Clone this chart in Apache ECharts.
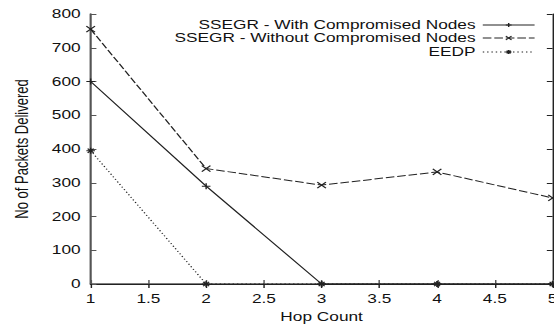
<!DOCTYPE html>
<html>
<head>
<meta charset="utf-8">
<script src="https://cdn.jsdelivr.net/npm/echarts@6/dist/echarts.min.js"></script>
<style>
  html, body { margin: 0; padding: 0; background: #fff; overflow: hidden; }
  /* the source figure is a gnuplot plot stretched sideways, so draw narrow and widen it */
  #chart { width: 385px; height: 329px; transform: scaleX(1.439); transform-origin: 0 0; }
</style>
</head>
<body>
<div id="chart"></div>
<script>
const hopCount = [1, 2, 3, 4, 5];
const withCompromised = [600, 290, 0, 0, 0];
const withoutCompromised = [755, 342, 293, 332, 255];
const eedp = [395, 0, 0, 0, 0];
const seriesNames = ['SSEGR - With Compromised Nodes', 'SSEGR - Without Compromised Nodes', 'EEDP'];

const font = 'Liberation Sans';
const ink = '#222';

// gnuplot style point marks: + , x and *
const plusMark = 'path://M5,0L5,10M0,5L10,5';
const crossMark = 'path://M0,0L10,10M10,0L0,10';
const starMark = 'path://M5,0L5,10M0,5L10,5M1.5,1.5L8.5,8.5M8.5,1.5L1.5,8.5';

function pairs(values) {
    return hopCount.map((x, i) => [x, values[i]]);
}

function lineSeries(name, values, mark, dash) {
    return {
        name: name,
        type: 'line',
        data: pairs(values),
        symbol: mark,
        symbolSize: 6,
        lineStyle: { color: ink, width: 1, type: dash },
        itemStyle: { color: ink, borderColor: ink, borderWidth: 1 },
        emphasis: { disabled: true }
    };
}

const legendBase = {
    orient: 'vertical',
    align: 'right',
    right: 13,
    padding: 0,
    itemWidth: 36,
    itemHeight: 5,
    selectedMode: false,
    lineStyle: { width: 1 },
    itemStyle: { borderWidth: 1 },
    textStyle: { fontFamily: font, fontSize: 12, color: '#111' }
};

let chart = echarts.init(document.getElementById('chart'), null, { renderer: 'svg' });
const option = {
    animation: false,
    backgroundColor: '#fff',
    grid: { left: 63, right: 1, top: 14, bottom: 45, outerBoundsMode: 'none' },
    legend: [
        Object.assign({}, legendBase, { top: 19, data: [seriesNames[0]] }),
        Object.assign({}, legendBase, { top: 32, data: [seriesNames[1]] }),
        Object.assign({}, legendBase, { top: 46, data: [seriesNames[2]] })
    ],
    xAxis: [
        {
            type: 'value', min: 1, max: 5, interval: 0.5,
            name: 'Hop Count', nameLocation: 'middle', nameGap: 27,
            nameTextStyle: { fontFamily: font, fontSize: 12, color: '#111' },
            axisLine: { lineStyle: { color: '#555', width: 1.5 } },
            axisTick: { inside: true, length: 4, lineStyle: { color: '#555' } },
            axisLabel: { fontFamily: font, fontSize: 12, color: '#111', margin: 9 },
            splitLine: { show: false }
        },
        {
            type: 'value', position: 'top', min: 1, max: 5, interval: 0.5,
            axisLine: { lineStyle: { color: ink, width: 1 } },
            axisTick: { inside: true, length: 4, lineStyle: { color: ink } },
            axisLabel: { show: false },
            splitLine: { show: false }
        }
    ],
    yAxis: [
        {
            type: 'value', min: 0, max: 800, interval: 100,
            name: 'No of Packets Delivered', nameLocation: 'middle', nameGap: 42,
            nameTextStyle: { fontFamily: font, fontSize: 13, color: '#111' },
            axisLine: { show: true, lineStyle: { color: '#555', width: 1.5 } },
            axisTick: { show: true, inside: true, length: 4, lineStyle: { color: '#555' } },
            axisLabel: { fontFamily: font, fontSize: 12, color: '#111', margin: 7 },
            splitLine: { show: false }
        },
        {
            type: 'value', position: 'right', min: 0, max: 800, interval: 100,
            axisLine: { show: true, lineStyle: { color: ink, width: 1 } },
            axisTick: { show: true, inside: true, length: 4, lineStyle: { color: ink } },
            axisLabel: { show: false },
            splitLine: { show: false }
        }
    ],
    series: [
        lineSeries(seriesNames[0], withCompromised, plusMark, 'solid'),
        lineSeries(seriesNames[1], withoutCompromised, crossMark, [6, 2]),
        lineSeries(seriesNames[2], eedp, starMark, [1, 2])
    ]
};
chart.setOption(option);
</script>
</body>
</html>
